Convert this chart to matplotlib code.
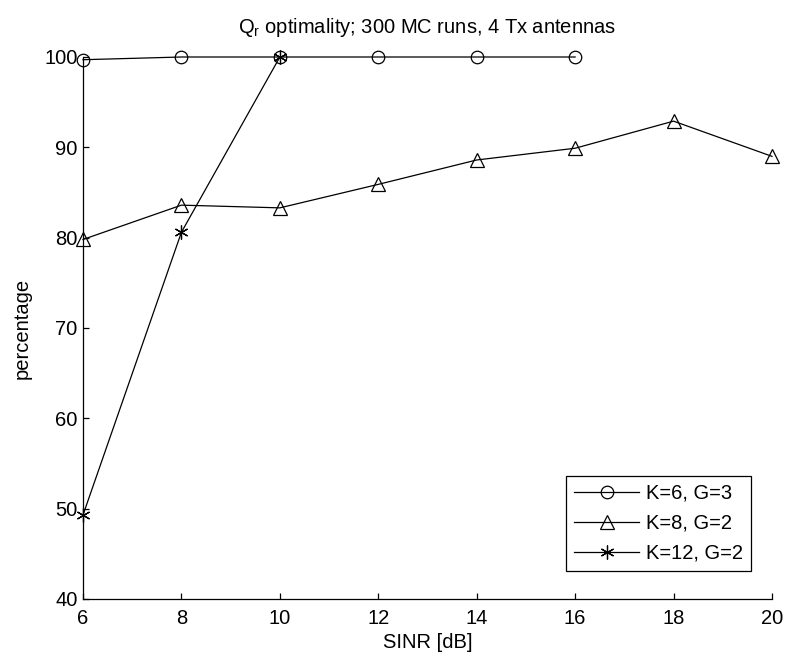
import matplotlib
matplotlib.use("Agg")
import matplotlib.pyplot as plt

plt.rcParams['font.family'] = ['Liberation Sans', 'DejaVu Sans']
plt.rcParams['font.size'] = 14.5

# data
sinr_k6 = [6, 8, 10, 12, 14, 16]
pct_k6 = [99.7, 100, 100, 100, 100, 100]

sinr_k8 = [6, 8, 10, 12, 14, 16, 18, 20]
pct_k8 = [79.8, 83.6, 83.3, 85.9, 88.6, 89.9, 92.9, 89.0]

sinr_k12 = [6, 8, 10]
pct_k12 = [49.3, 80.6, 100]

labels = ["K=6, G=3", "K=8, G=2", "K=12, G=2"]


def main():
    fig = plt.figure(figsize=(7.88, 6.57), dpi=100)
    ax = fig.add_axes([83 / 788, 58 / 657, 689 / 788, 542 / 657])

    line_kw = dict(color='black', linewidth=0.9, markerfacecolor='none',
                   markeredgecolor='black', markeredgewidth=0.9, clip_on=False)
    ax.plot(sinr_k6, pct_k6, marker='o', markersize=9, label=labels[0], **line_kw)
    ax.plot(sinr_k8, pct_k8, marker='^', markersize=10, label=labels[1], **line_kw)
    ax.plot(sinr_k12, pct_k12, marker=(6, 2, 0), markersize=10, label=labels[2], **line_kw)

    ax.set_xlim(6, 20)
    ax.set_ylim(40, 100)
    ax.set_xticks(range(6, 21, 2))
    ax.set_yticks(range(40, 101, 10))

    # MATLAB-like axes: box off, ticks pointing in
    ax.spines['top'].set_visible(False)
    ax.spines['right'].set_visible(False)
    ax.spines['left'].set_linewidth(0.9)
    ax.spines['bottom'].set_linewidth(0.9)
    ax.tick_params(direction='in', length=4.5, width=0.9, labelsize=14.5)
    ax.tick_params(axis='y', pad=4)
    ax.tick_params(axis='x', pad=7)

    ax.set_xlabel("SINR [dB]", labelpad=4)
    ax.set_ylabel("percentage", labelpad=9)
    ax.set_title(r"Q$_\mathregular{r}$ optimality; 300 MC runs, 4 Tx antennas",
                 fontsize=14.5, pad=17)

    leg = ax.legend(loc='lower right', bbox_to_anchor=(0.9695, 0.0517),
                    fancybox=False, framealpha=1, edgecolor='black',
                    handlelength=3.2, borderpad=0.4, labelspacing=0.55,
                    handletextpad=0.35, borderaxespad=0)
    leg.get_frame().set_linewidth(0.9)

    fig.savefig("out.png", dpi=100)


if __name__ == '__main__':
    main()
